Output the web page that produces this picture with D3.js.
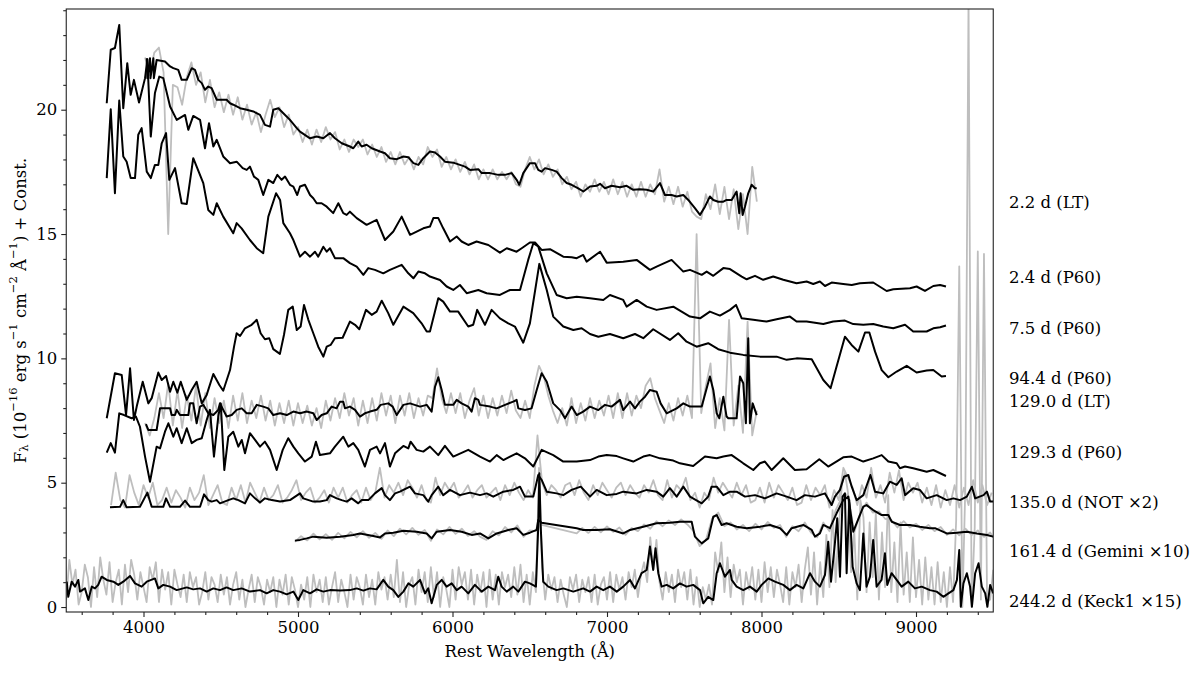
<!DOCTYPE html>
<html>
<head>
<meta charset="utf-8">
<script src="https://cdn.jsdelivr.net/npm/d3@7"></script>
<style>
body { margin: 0; background: #fff; }
text { font-family: "DejaVu Serif", serif; fill: #000; }
</style>
</head>
<body>
<div id="container"></div>
<script>
// ---- data: [wavelength (A), flux + offset] ----
var ltDay2Black = [[4021,22.07],[4025,21.27],[4042,22.07],[4045,21.27],[4064,22.07],[4067,21.27],[4085,22.0],[4139,21.94],[4172,21.74],[4193,21.67],[4225,21.6],[4247,21.2],[4280,21.2],[4312,21.67],[4333,21.6],[4355,21.2],[4377,21.07],[4398,20.8],[4419,20.93],[4441,20.87],[4474,20.4],[4495,20.4],[4538,20.4],[4560,20.26],[4581,20.2],[4625,20.06],[4668,20.0],[4711,19.93],[4754,19.79],[4786,19.39],[4819,19.32],[4840,20.0],[4873,20.06],[4905,19.86],[4948,19.59],[4992,19.26],[5013,19.12],[5078,18.85],[5121,18.92],[5164,18.85],[5207,19.06],[5239,18.85],[5283,18.65],[5336,18.52],[5358,18.45],[5390,18.72],[5412,18.52],[5444,18.59],[5477,18.45],[5531,18.32],[5563,18.25],[5595,18.05],[5639,18.01],[5682,18.12],[5714,18.09],[5747,17.85],[5779,17.78],[5811,18.05],[5854,18.32],[5887,18.28],[5919,18.12],[5951,17.91],[6005,17.87],[6048,17.78],[6081,17.71],[6113,17.58],[6167,17.61],[6189,17.45],[6243,17.45],[6296,17.38],[6340,17.38],[6383,17.45],[6415,17.18],[6432,16.98],[6458,17.45],[6501,17.85],[6534,17.85],[6555,17.58],[6577,17.51],[6599,17.65],[6642,17.58],[6674,17.51],[6707,17.25],[6739,17.05],[6771,16.98],[6814,16.84],[6847,16.71],[6890,16.91],[6933,16.94],[6955,17.02],[6987,16.84],[7030,16.94],[7084,16.88],[7127,16.94],[7170,16.78],[7213,16.8],[7257,16.78],[7299,16.71],[7343,17.05],[7375,16.57],[7418,16.57],[7451,16.51],[7494,16.57],[7526,16.37],[7569,16.04],[7602,15.77],[7634,16.1],[7666,16.51],[7688,16.37],[7720,16.3],[7753,16.3],[7774,16.37],[7807,16.37],[7839,16.71],[7856,15.84],[7865,16.64],[7878,15.77],[7893,16.1],[7914,16.64],[7936,16.98],[7958,16.84],[7969,16.84]];

var p60Day2 = [[3762,20.26],[3788,22.41],[3815,22.48],[3843,23.41],[3869,20.06],[3895,21.87],[3917,20.6],[3938,21.2],[3971,20.29],[4010,21.27],[4025,22.03],[4047,18.92],[4074,20.67],[4102,21.33],[4128,21.27],[4172,20.13],[4215,19.59],[4269,19.79],[4290,19.19],[4322,19.75],[4366,19.59],[4398,18.45],[4424,19.46],[4452,18.52],[4474,18.79],[4516,18.12],[4560,17.85],[4603,17.91],[4642,17.65],[4668,17.58],[4689,17.71],[4715,17.31],[4743,17.18],[4775,16.57],[4808,17.18],[4840,17.05],[4866,17.38],[4894,17.18],[4916,17.31],[4948,16.98],[4970,16.91],[4995,16.57],[5013,16.91],[5045,16.98],[5078,16.57],[5099,16.44],[5121,16.24],[5153,16.24],[5186,16.1],[5228,15.84],[5261,16.24],[5293,15.84],[5315,15.77],[5336,15.9],[5380,15.64],[5444,15.37],[5509,15.57],[5563,14.76],[5617,15.1],[5671,15.7],[5725,14.97],[5811,15.23],[5854,15.3],[5876,15.64],[5908,15.64],[5940,15.23],[5984,14.7],[6027,14.9],[6059,14.7],[6102,14.56],[6156,14.7],[6232,14.56],[6307,14.25],[6351,14.43],[6415,14.29],[6448,14.43],[6501,14.66],[6534,14.66],[6577,14.36],[6631,14.39],[6717,14.09],[6771,14.07],[6804,14.03],[6846,14.16],[6868,13.89],[6955,14.29],[6998,13.85],[7105,13.89],[7192,13.96],[7278,13.56],[7321,13.69],[7418,13.96],[7494,13.49],[7537,13.56],[7613,13.36],[7645,13.49],[7688,13.32],[7753,13.63],[7796,13.59],[7872,13.29],[7904,13.18],[7958,13.32],[8011,13.16],[8076,13.29],[8141,13.16],[8227,13.02],[8292,13.09],[8335,12.99],[8378,13.09],[8411,12.91],[8454,13.05],[8529,12.99],[8584,12.95],[8637,13.02],[8723,13.05],[8810,12.71],[8853,12.78],[8961,12.82],[9004,12.89],[9058,12.71],[9112,12.91],[9156,12.95],[9194,12.89]];

var p60Day7 = [[3762,17.25],[3788,20.02],[3815,16.64],[3843,20.37],[3869,18.12],[3891,17.91],[3917,17.25],[3945,17.25],[3966,18.99],[3988,19.26],[4021,17.51],[4047,17.25],[4074,17.78],[4096,17.78],[4118,18.65],[4146,19.06],[4167,17.18],[4204,17.65],[4247,16.24],[4280,16.21],[4322,18.05],[4387,17.05],[4419,15.97],[4452,15.77],[4474,16.24],[4516,15.7],[4581,15.03],[4603,15.44],[4635,15.23],[4689,14.76],[4733,14.43],[4775,14.23],[4808,15.7],[4858,16.64],[4884,16.37],[4905,15.44],[4948,15.03],[4970,14.76],[5013,14.09],[5045,14.29],[5078,14.09],[5110,14.29],[5131,14.09],[5164,14.49],[5186,14.29],[5207,14.43],[5239,14.03],[5293,14.03],[5336,13.83],[5380,13.69],[5423,13.36],[5455,13.63],[5498,13.56],[5552,13.42],[5595,13.56],[5671,13.76],[5714,13.42],[5747,13.22],[5779,13.49],[5822,13.42],[5854,13.29],[5919,13.15],[5962,12.89],[6005,12.75],[6048,12.95],[6092,12.62],[6167,12.75],[6221,12.62],[6307,12.55],[6372,12.75],[6437,12.75],[6490,13.96],[6523,14.63],[6555,14.5],[6610,13.42],[6674,12.55],[6739,12.42],[6804,12.48],[6890,12.42],[6976,12.35],[7019,12.55],[7105,12.35],[7127,12.08],[7192,12.35],[7257,12.08],[7321,11.95],[7429,12.08],[7537,11.68],[7602,11.61],[7666,11.88],[7731,11.72],[7796,11.95],[7835,12.15],[7872,11.61],[7947,11.55],[8033,11.48],[8098,11.57],[8184,11.68],[8227,11.48],[8292,11.48],[8400,11.38],[8464,11.48],[8540,11.52],[8594,11.38],[8659,11.35],[8723,11.38],[8788,11.28],[8853,11.21],[8929,11.35],[8982,11.08],[9069,11.08],[9112,11.21],[9156,11.25],[9194,11.32]];

var p60Day94 = [[3762,7.59],[3815,9.4],[3859,9.33],[3887,7.72],[3913,9.6],[3938,7.52],[3956,8.06],[3995,9.06],[4031,8.19],[4053,8.4],[4096,9.43],[4118,9.13],[4146,9.29],[4172,8.66],[4193,9.06],[4219,8.62],[4241,9.06],[4280,8.33],[4312,8.73],[4344,9.06],[4377,8.19],[4409,8.53],[4452,9.37],[4491,8.93],[4516,8.7],[4560,9.53],[4586,10.47],[4603,11.01],[4625,10.9],[4657,11.21],[4700,11.35],[4733,11.55],[4758,11.01],[4786,10.77],[4814,10.81],[4840,10.37],[4883,10.18],[4909,10.94],[4937,11.95],[4966,12.08],[4992,11.14],[5017,11.28],[5039,12.15],[5067,11.55],[5099,11.01],[5131,10.47],[5164,10.07],[5186,10.47],[5211,10.54],[5239,10.81],[5289,10.83],[5336,11.48],[5369,11.35],[5397,11.17],[5440,11.95],[5477,11.75],[5509,11.88],[5542,12.32],[5584,11.82],[5617,11.35],[5682,12.08],[5746,11.82],[5800,11.41],[5833,11.08],[5854,11.08],[5908,12.42],[5940,12.28],[5984,11.88],[6037,11.88],[6102,11.28],[6134,11.35],[6160,11.95],[6210,11.35],[6253,11.95],[6307,11.61],[6361,11.41],[6404,11.28],[6458,10.63],[6501,11.41],[6562,13.8],[6610,12.75],[6652,11.68],[6717,11.28],[6782,11.14],[6836,11.21],[6890,10.98],[6944,10.87],[7019,10.98],[7105,10.81],[7181,10.98],[7235,10.81],[7299,11.17],[7407,10.74],[7461,11.01],[7515,10.67],[7580,10.47],[7655,10.61],[7720,10.37],[7796,10.23],[7882,10.14],[7990,10.07],[8098,10.07],[8163,9.94],[8227,10.0],[8325,9.96],[8400,9.13],[8447,8.8],[8486,9.67],[8540,10.87],[8583,10.54],[8627,10.27],[8670,11.04],[8698,11.04],[8735,10.27],[8778,9.53],[8821,9.24],[8875,9.47],[8940,9.7],[9004,9.43],[9069,9.51],[9112,9.53],[9166,9.27],[9194,9.29]];

var ltDay129Black = [[4016,7.36],[4031,7.12],[4085,7.12],[4107,7.99],[4172,7.99],[4182,7.72],[4204,7.72],[4215,7.93],[4236,7.72],[4290,7.72],[4301,8.19],[4322,8.19],[4344,7.39],[4366,8.06],[4387,8.13],[4419,7.79],[4452,7.72],[4484,7.93],[4495,8.19],[4538,7.66],[4571,7.72],[4603,7.93],[4636,7.99],[4668,7.79],[4700,7.79],[4733,8.13],[4775,8.06],[4808,7.99],[4840,7.72],[4884,7.79],[4927,7.72],[4970,7.86],[5013,7.79],[5056,7.86],[5099,7.79],[5121,7.52],[5153,7.72],[5186,7.79],[5218,8.06],[5250,7.99],[5272,8.26],[5293,8.26],[5304,7.99],[5336,8.06],[5369,7.93],[5401,7.66],[5433,7.79],[5466,7.86],[5509,7.93],[5535,8.13],[5584,8.19],[5613,8.06],[5639,7.72],[5682,8.13],[5725,8.19],[5790,8.06],[5833,8.13],[5865,7.86],[5887,8.86],[5908,9.24],[5930,8.73],[5951,8.13],[6005,8.13],[6027,8.33],[6059,8.19],[6102,8.06],[6124,7.86],[6145,8.4],[6167,8.33],[6178,8.13],[6243,8.06],[6286,7.99],[6340,8.13],[6393,8.26],[6415,8.33],[6426,7.99],[6469,7.92],[6512,7.99],[6545,8.73],[6577,9.4],[6610,9.06],[6652,8.19],[6696,7.92],[6728,7.59],[6771,8.06],[6804,7.72],[6846,7.86],[6890,8.06],[6944,7.92],[6987,8.13],[7030,8.06],[7084,8.33],[7105,7.92],[7149,8.26],[7181,7.99],[7213,8.26],[7246,8.46],[7278,8.73],[7321,8.66],[7347,8.19],[7386,7.79],[7451,7.99],[7494,8.19],[7537,8.06],[7613,8.06],[7666,9.27],[7688,8.73],[7710,7.79],[7727,7.59],[7753,8.46],[7774,7.66],[7785,7.59],[7839,7.59],[7861,9.27],[7882,9.0],[7899,7.39],[7914,10.81],[7925,7.39],[7943,8.19],[7969,7.72]];

var p60Day129 = [[3762,6.21],[3788,6.59],[3815,6.21],[3843,7.79],[3874,7.72],[3923,7.59],[3951,7.66],[3977,7.25],[4010,6.05],[4042,5.04],[4085,6.45],[4107,6.38],[4139,7.05],[4161,7.39],[4193,6.85],[4215,7.19],[4247,6.59],[4280,7.19],[4312,6.59],[4344,6.72],[4377,6.79],[4409,7.52],[4430,7.93],[4456,6.05],[4484,7.66],[4500,8.19],[4523,5.51],[4549,6.85],[4581,7.05],[4614,6.45],[4636,6.72],[4657,6.18],[4689,6.99],[4722,6.72],[4754,6.45],[4786,6.65],[4819,6.32],[4862,5.51],[4901,6.32],[4937,6.79],[4970,6.45],[5002,6.18],[5045,5.85],[5089,6.05],[5116,6.65],[5142,6.11],[5207,6.18],[5239,6.45],[5293,6.85],[5326,6.45],[5358,6.59],[5390,6.32],[5433,5.65],[5466,6.32],[5509,6.45],[5531,6.18],[5563,6.59],[5595,5.65],[5628,6.18],[5682,6.48],[5714,6.38],[5729,6.65],[5768,6.32],[5811,6.25],[5854,6.45],[5908,6.11],[5951,6.48],[6005,6.05],[6102,6.32],[6178,6.05],[6243,5.85],[6286,6.11],[6329,5.91],[6415,6.18],[6469,5.98],[6523,5.65],[6577,6.32],[6652,6.11],[6717,5.85],[6804,5.85],[6890,5.91],[6944,6.05],[6998,6.11],[7063,6.07],[7105,5.98],[7170,5.85],[7235,6.05],[7278,6.11],[7343,5.98],[7429,5.89],[7472,5.78],[7558,5.67],[7634,6.05],[7710,5.98],[7753,6.05],[7807,6.11],[7882,5.78],[7947,5.51],[7990,5.78],[8022,5.85],[8066,5.51],[8141,5.98],[8216,5.51],[8292,5.54],[8374,5.94],[8432,5.65],[8529,6.02],[8584,6.05],[8659,5.85],[8723,5.98],[8778,6.11],[8821,5.85],[8875,5.78],[8896,5.58],[8929,5.65],[8982,5.58],[9069,5.44],[9112,5.51],[9194,5.27]];

var notDay135Black = [[3783,4.01],[3848,4.03],[3869,4.3],[3891,4.01],[3977,4.03],[4025,4.6],[4053,4.03],[4128,4.03],[4146,4.37],[4172,4.03],[4236,4.03],[4269,4.28],[4301,4.03],[4366,4.03],[4392,4.53],[4419,4.3],[4441,4.24],[4474,4.3],[4495,4.17],[4549,4.3],[4581,4.37],[4614,4.3],[4657,4.17],[4689,4.57],[4722,4.37],[4754,4.2],[4786,4.37],[4830,4.3],[4884,4.24],[4948,4.3],[5013,4.57],[5034,4.37],[5099,4.24],[5142,4.24],[5186,4.3],[5207,4.5],[5250,4.37],[5283,4.3],[5315,4.24],[5347,4.37],[5390,4.17],[5412,4.3],[5455,4.3],[5498,4.57],[5542,4.78],[5563,4.5],[5595,4.3],[5628,4.57],[5660,4.64],[5682,4.71],[5725,4.84],[5757,4.57],[5811,4.5],[5843,4.24],[5865,4.5],[5908,4.84],[5940,4.5],[5984,4.71],[6048,4.5],[6113,4.6],[6178,4.5],[6221,4.57],[6264,4.44],[6329,4.64],[6393,4.71],[6437,4.84],[6469,4.44],[6523,4.44],[6555,5.31],[6577,5.11],[6610,4.64],[6674,4.57],[6717,4.5],[6771,4.71],[6830,4.84],[6890,4.44],[6933,4.71],[6998,4.5],[7063,4.55],[7105,4.64],[7192,4.57],[7257,4.71],[7321,4.64],[7364,4.44],[7407,4.78],[7451,4.44],[7494,4.84],[7537,4.44],[7613,4.17],[7655,4.44],[7677,4.84],[7710,4.84],[7753,4.5],[7796,4.64],[7839,4.64],[7893,4.44],[7958,4.5],[8022,4.37],[8098,4.57],[8163,4.44],[8227,4.3],[8281,4.5],[8346,4.44],[8411,4.57],[8454,4.1],[8475,4.44],[8508,4.71],[8534,5.24],[8562,5.31],[8584,4.84],[8616,4.3],[8659,4.5],[8705,5.31],[8735,4.64],[8788,4.57],[8831,5.04],[8875,4.91],[8907,5.18],[8929,4.5],[8982,4.78],[9025,4.71],[9069,4.37],[9134,4.5],[9199,4.3],[9242,4.37],[9285,4.3],[9329,4.44],[9362,4.84],[9383,4.37],[9437,4.5],[9459,4.64],[9480,4.24],[9502,4.24]];

var geminiDay161Black = [[4980,2.67],[5013,2.7],[5056,2.76],[5099,2.83],[5186,2.79],[5272,2.83],[5358,2.9],[5401,2.96],[5487,2.86],[5531,2.8],[5563,2.96],[5617,2.99],[5682,3.07],[5768,3.03],[5833,2.96],[5865,2.76],[5898,3.03],[5984,3.1],[6059,3.03],[6124,2.9],[6178,2.96],[6232,2.76],[6286,2.96],[6361,3.1],[6415,3.17],[6458,2.9],[6501,2.99],[6545,3.1],[6555,3.5],[6577,3.39],[6804,3.17],[6846,3.1],[6933,3.1],[7019,3.13],[7105,2.96],[7149,3.1],[7235,3.23],[7321,3.37],[7407,3.39],[7472,3.43],[7548,3.43],[7569,2.83],[7613,2.56],[7655,2.76],[7688,3.63],[7710,3.7],[7742,3.3],[7774,3.37],[7839,3.23],[7904,3.17],[7990,3.23],[8055,3.3],[8120,3.17],[8163,2.9],[8195,3.17],[8271,3.3],[8325,3.1],[8346,2.83],[8378,2.96],[8400,3.3],[8443,3.17],[8486,3.77],[8529,4.3],[8562,4.44],[8594,3.03],[8659,4.04],[8680,4.1],[8723,3.9],[8778,3.7],[8821,3.7],[8843,3.43],[8896,3.3],[8961,3.3],[9025,3.23],[9090,3.17],[9123,3.17],[9199,2.96],[9264,2.99],[9329,3.03],[9394,2.96],[9459,2.9],[9500,2.83]];

var keckDay244Black = [[3503,1.02],[3513,0.41],[3535,1.02],[3557,0.82],[3578,1.09],[3589,0.62],[3621,0.75],[3643,0.28],[3665,0.82],[3686,0.75],[3707,0.89],[3729,1.22],[3762,1.09],[3805,1.02],[3837,0.89],[3869,1.02],[3913,1.25],[3945,0.95],[3988,0.82],[4021,1.02],[4074,1.15],[4096,0.75],[4128,0.89],[4172,0.82],[4215,0.68],[4280,0.79],[4322,0.71],[4366,0.75],[4409,0.62],[4452,0.75],[4495,0.68],[4538,0.79],[4581,0.68],[4636,0.75],[4689,0.62],[4754,0.68],[4797,0.55],[4840,0.68],[4883,0.62],[4927,0.51],[4970,0.62],[5002,0.28],[5034,0.68],[5078,0.55],[5121,0.71],[5164,0.62],[5207,0.68],[5272,0.66],[5336,0.68],[5380,0.75],[5423,0.66],[5466,0.75],[5509,0.71],[5552,1.09],[5584,0.82],[5617,0.68],[5649,0.41],[5682,0.62],[5714,0.95],[5746,0.82],[5790,1.09],[5822,0.55],[5843,0.75],[5865,0.15],[5898,0.89],[5930,1.09],[5962,0.82],[5995,0.95],[6027,0.68],[6059,0.82],[6102,0.55],[6145,0.89],[6189,0.62],[6232,0.82],[6275,0.68],[6296,1.22],[6318,0.82],[6351,0.62],[6393,0.82],[6426,0.62],[6469,1.02],[6501,0.95],[6540,0.82],[6555,3.23],[6562,5.38],[6571,3.23],[6587,1.02],[6620,0.82],[6674,0.68],[6717,0.75],[6782,0.62],[6846,0.75],[6890,0.62],[6933,0.82],[6976,0.68],[7019,0.82],[7063,0.62],[7105,0.82],[7149,1.09],[7181,0.75],[7224,1.36],[7257,1.49],[7278,2.43],[7299,1.49],[7314,2.36],[7332,1.36],[7354,0.82],[7386,0.89],[7429,0.75],[7472,0.95],[7515,0.82],[7558,0.89],[7602,0.68],[7623,0.15],[7655,0.41],[7688,0.28],[7710,1.36],[7731,1.76],[7763,1.22],[7796,1.49],[7807,1.09],[7839,0.82],[7882,0.68],[7925,0.82],[7969,0.62],[8001,0.89],[8044,1.15],[8087,1.02],[8141,0.89],[8184,0.68],[8227,0.89],[8271,0.75],[8314,1.36],[8346,1.02],[8378,0.82],[8411,1.29],[8432,2.63],[8450,1.02],[8475,2.56],[8490,3.57],[8508,1.22],[8525,4.44],[8540,4.57],[8551,1.36],[8568,4.3],[8590,1.62],[8616,0.95],[8637,0.68],[8659,2.96],[8680,0.82],[8702,1.22],[8723,2.7],[8745,0.82],[8777,1.09],[8799,2.16],[8814,0.89],[8842,1.36],[8875,1.09],[8907,0.82],[8950,1.02],[8993,0.75],[9037,0.82],[9090,0.68],[9134,0.62],[9177,0.41],[9210,0.55],[9242,0.68],[9265,1.09],[9280,2.29],[9290,0.01],[9307,0.95],[9329,1.36],[9350,0.82],[9362,0.01],[9383,1.36],[9405,1.76],[9426,0.82],[9448,0.55],[9462,0.01],[9480,0.89],[9500,0.55]];

// unbinned spectra (grey), uniform wavelength grids
var ltDay2GreyStart = 4010, ltDay2GreyStep = 30;
var ltDay2Grey = [22.1,21.4,22.3,22.5,21.5,15.0,21.0,20.9,20.2,21.3,21.9,21.0,21.5,20.3,21.2,20.1,20.7,19.9,20.6,19.8,20.5,19.6,20.2,19.4,19.9,19.1,19.8,20.4,19.7,20.1,19.3,19.8,19.0,19.3,18.7,19.2,18.6,19.2,18.7,19.3,18.8,19.1,18.4,18.8,18.3,18.8,18.5,18.8,18.2,18.6,18.1,18.5,17.9,18.3,17.8,18.3,17.8,18.1,17.6,18.1,17.8,18.5,18.1,18.4,17.7,18.1,17.6,18.0,17.5,17.9,17.4,17.8,17.2,17.6,17.2,17.6,17.2,17.5,17.2,17.5,17.0,16.9,17.6,18.1,17.6,18.0,17.4,17.8,17.3,17.6,17.0,17.3,16.8,17.1,16.5,17.0,16.7,17.2,16.7,17.1,16.6,17.2,16.6,17.1,16.5,17.0,16.5,17.1,16.5,17.0,16.6,17.6,16.3,16.9,16.2,16.9,16.1,16.7,15.9,15.7,15.6,16.6,16.0,17.0,15.8,16.9,15.6,16.8,15.2,16.6,15.0,17.7,16.3];

var ltDay129GreyStart = 4010, ltDay129GreyStep = 30;
var ltDay129Grey = [7.4,6.9,7.6,8.6,7.6,9.0,7.3,8.7,7.2,8.5,7.5,8.9,7.3,8.6,7.2,8.4,7.4,8.3,7.2,8.5,7.5,8.6,7.4,8.3,7.6,8.5,7.5,8.3,7.3,8.2,7.4,8.3,7.3,8.2,7.4,8.1,7.3,8.0,7.2,8.3,7.5,8.4,7.6,8.6,7.7,8.4,7.3,8.3,7.4,8.4,7.5,8.6,7.7,8.5,7.4,8.5,7.7,8.6,7.6,8.4,7.7,8.5,8.4,9.6,8.4,7.8,8.6,7.8,8.6,7.6,8.3,8.8,7.7,8.5,7.6,8.4,7.7,8.5,7.8,8.7,7.9,7.6,8.3,7.6,8.9,9.7,9.3,8.5,7.9,7.4,8.0,7.3,8.4,7.4,8.2,7.5,8.4,7.6,8.3,7.7,8.5,7.6,8.6,7.6,8.6,7.7,8.5,8.0,8.9,9.2,8.4,7.9,7.4,8.2,7.5,8.4,7.7,8.5,7.6,15.0,7.8,8.9,9.8,7.2,8.4,7.1,11.55,7.3,8.9,7.0,11.48,6.9,7.9];

var notDay135GreyStart = 3790, notDay135GreyStep = 30;
var notDay135Grey = [4.1,5.4,4.3,4.0,5.3,4.6,4.1,4.9,4.4,5.0, 4.1,4.3,4.8,4.2,4.7,4.4,4.0,4.8,4.3,4.6, 5.3,4.1,4.5,4.9,4.2,4.1,4.8,4.3,4.9,4.2, 5.0,4.6,4.2,4.8,4.3,4.5,4.9,4.2,4.4,4.7, 5.1,4.3,4.6,4.8,4.2,4.4,4.7,4.2,4.8,4.4, 4.8,4.2,4.5,4.7,4.2,4.8,4.3,4.6,5.6,4.4, 4.9,4.6,5.0,4.5,5.1,4.8,4.4,4.9,4.3,4.2, 5.2,4.5,5.0,4.7,5.0,4.4,4.6,4.9,4.4,4.7, 4.9,4.4,4.6,4.8,4.3,4.9,4.5,5.0,4.6,4.3, 4.7,4.4,6.9,5.0,4.5,4.9,4.7,4.4,4.9,5.0, 4.5,5.1,4.6,4.3,4.9,4.5,5.0,4.7,4.4,4.8, 5.0,4.5,4.9,4.6,4.4,4.9,4.6,5.1,4.5,4.3, 5.1,4.4,4.9,4.7,5.2,4.3,4.6,4.0,4.6,4.3, 5.2,4.6,5.0,4.7,4.4,5.0,4.5,4.9,4.2,4.3, 4.8,4.2,5.0,4.4,4.9,4.6,4.3,4.8,4.1,4.2, 4.9,4.3,4.8,4.5,4.9,4.0,4.7,4.3,5.6,5.2, 4.8,4.1,4.9,4.4,5.6,4.4,4.9,4.2,5.4,4.6, 5.5,4.3,5.0,4.6,5.0,4.2,4.8,4.1,4.9,4.0, 4.7,4.1,4.9,4.0,4.8,4.1,5.1,4.2,4.9,4.1, 4.6];

var geminiDay161Grey = [[4980,2.62],[5020,2.85],[5060,2.68],[5100,2.95],[5140,2.72],[5180,2.93],[5220,2.7],[5260,2.98],[5300,2.76],[5340,3.02],[5380,2.8],[5420,3.05],[5460,2.78],[5500,2.98],[5540,2.74],[5580,3.08],[5620,2.85],[5660,3.15],[5700,2.92],[5740,3.18],[5780,2.9],[5820,3.1],[5860,2.66],[5900,3.12],[5940,2.92],[5980,3.22],[6020,2.94],[6060,3.15],[6100,2.86],[6140,3.05],[6180,2.82],[6220,2.7],[6260,3.05],[6300,2.88],[6340,3.22],[6380,3.0],[6420,3.28],[6460,2.82],[6500,3.08],[6540,3.05],[6560,3.6],[6577,3.3],[6804,2.96],[6840,3.18],[6880,2.98],[6920,3.22],[6960,3.0],[7000,3.24],[7040,3.02],[7080,3.2],[7120,2.9],[7160,3.18],[7200,3.05],[7240,3.32],[7280,3.15],[7320,3.45],[7360,3.25],[7400,3.48],[7440,3.3],[7480,3.52],[7520,3.32],[7560,3.05],[7600,2.45],[7640,2.7],[7680,3.55],[7720,3.8],[7760,3.25],[7800,3.4],[7840,3.12],[7880,3.3],[7920,3.05],[7960,3.35],[8000,3.12],[8040,3.42],[8080,3.18],[8120,3.3],[8160,2.82],[8200,3.25],[8240,3.05],[8280,3.4],[8320,3.0],[8360,2.8],[8400,3.4],[8440,3.05],[8480,3.9],[8520,4.4],[8560,4.55],[8600,3.0],[8640,3.8],[8680,4.2],[8720,3.8],[8760,3.85],[8800,3.55],[8840,3.5],[8880,3.2],[8920,3.45],[8960,3.2],[9000,3.35],[9040,3.1],[9080,3.3],[9120,3.05],[9160,3.22],[9200,2.9],[9240,3.12],[9280,2.88],[9320,3.15],[9360,2.9],[9400,3.08],[9440,2.82],[9480,3.0],[9500,2.8]];

var keckDay244GreyStart = 3500, keckDay244GreyStep = 20;
var keckDay244Grey = [0.3,1.9,0.9,1.5,0.1,0.6,1.7,1.2,0.0,1.6, 0.4,2.0,1.1,0.5,1.8,0.2,1.0,1.5,0.1,1.7, 0.6,1.9,1.3,0.3,1.4,0.8,0.2,1.6,1.1,1.8, 0.2,1.5,0.7,1.4,0.1,1.5,0.9,0.4,1.3,0.2, 1.4,0.8,1.2,0.1,0.6,1.4,0.3,1.2,0.9,0.2, 1.3,0.5,1.2,0.1,0.9,1.4,0.3,1.1,0.0,0.7, 1.3,0.2,1.2,0.8,0.1,1.1,0.6,1.2,0.0,1.1, 0.5,1.3,0.1,1.2,0.7,0.0,0.9,0.3,1.2,0.0, 1.3,0.6,1.1,0.2,1.2,0.1,0.8,1.4,0.2,1.1, 0.6,0.0,1.3,0.3,1.2,0.8,0.1,1.3,0.4,1.1, 0.1,1.4,0.7,1.2,0.3,1.3,0.4,1.9,0.2,1.4, 0.0,0.9,1.2,0.1,1.5,0.6,1.4,0.2,1.6,0.4, 1.4,0.0,1.2,0.7,0.0,1.5,0.3,1.6,0.9,1.4, 0.3,1.5,0.1,1.3,0.6,1.4,0.0,1.5,0.3,1.3, 0.1,1.4,0.8,1.3,0.4,1.6,0.5,1.7,0.2,1.3, 0.1,1.4,0.6,5.6,1.6,0.3,1.3,0.7,1.2,0.2, 1.1,0.5,0.0,1.2,0.7,1.3,0.2,1.1,0.6,1.2, 0.2,1.3,0.1,0.9,1.2,0.3,1.4,0.2,1.3,0.7, 1.2,0.3,1.4,0.8,1.5,0.4,1.3,1.8,1.0,2.8, 1.5,2.7,1.0,0.3,1.4,0.6,1.3,0.2,1.5,0.8, 1.4,0.3,1.5,0.1,1.2,0.0,0.8,0.3,0.9,0.1, 2.2,1.4,2.6,0.6,2.0,0.4,1.7,1.0,1.5,0.1, 1.4,0.7,1.6,0.3,1.5,0.2,1.8,0.6,1.6,0.4, 1.5,0.9,0.2,1.6,0.1,1.4,0.8,1.7,0.2,1.5, 2.4,0.5,2.2,0.1,1.8,0.4,2.9,0.8,3.9,1.0, 3.2,4.9,5.4,4.6,1.4,3.1,0.3,4.3,3.6,0.6, 3.4,1.2,3.8,0.3,3.0,0.8,4.5,0.6,2.6,0.2, 3.4,0.5,2.2,0.2,2.8,0.4,1.9,0.1,2.0,0.3, 1.6,0.1,1.8,0.2,1.4,0.0,1.6,0.2,3.5,13.7, 0.0,5.0,24.5,0.0,3.2,14.3,0.3,14.2,0.2,0.3,1.5];

// epoch labels and their heights (flux units)
var labelText = ["2.2 d (LT)", "2.4 d (P60)", "7.5 d (P60)", "94.4 d (P60)", "129.0 d (LT)", "129.3 d (P60)", "135.0 d (NOT \u00d72)", "161.4 d (Gemini \u00d710)", "244.2 d (Keck1 \u00d715)"];
var labelY = [16.25, 13.24, 11.22, 9.21, 8.25, 6.2, 4.22, 2.25, 0.24];

var xMajor = [4000, 5000, 6000, 7000, 8000, 9000];
var yMajor = [0, 5, 10, 15, 20];

// ---- layout ----
var W = 1200, H = 674;
var plotL = 66.25, plotR = 993.25, plotT = 9, plotB = 612;
var fontPx = 16.5;

var x = d3.scaleLinear().domain([3500, 9500]).range([plotL, plotR]);
var y = d3.scaleLinear().domain([-0.2, 24.05]).range([plotB, plotT]);

var xMinor = d3.range(3600, 9500, 200).filter(d => d % 1000 !== 0);
var yMinor = d3.range(0, 25, 1).filter(d => d % 5 !== 0);

var svg = d3.select("#container").append("svg")
	.attr("width", W)
	.attr("height", H);

svg.append("defs").append("clipPath")
	.attr("id", "plotclip")
	.append("rect")
	.attr("x", plotL).attr("y", plotT)
	.attr("width", plotR - plotL).attr("height", plotB - plotT);

function onGrid( start, step, vals )
{
	return vals.map( (v,i) => [start + i*step, v] );
}

var line = d3.line()
	.x(d => x(d[0]))
	.y(d => y(d[1]));

var lines = svg.append("g").attr("clip-path", "url(#plotclip)");

var greys = [
	onGrid(ltDay2GreyStart, ltDay2GreyStep, ltDay2Grey),
	onGrid(ltDay129GreyStart, ltDay129GreyStep, ltDay129Grey),
	onGrid(notDay135GreyStart, notDay135GreyStep, notDay135Grey),
	geminiDay161Grey,
	onGrid(keckDay244GreyStart, keckDay244GreyStep, keckDay244Grey)
];
var blacks = [ltDay2Black, p60Day2, p60Day7, p60Day94, ltDay129Black, p60Day129, notDay135Black, geminiDay161Black, keckDay244Black];

lines.selectAll(".grey")
	.data(greys)
	.enter().append("path")
	.attr("class", "grey")
	.attr("d", line)
	.attr("fill", "none")
	.attr("stroke", "#bebebe")
	.attr("stroke-width", 1.8)
	.attr("stroke-linejoin", "round");

lines.selectAll(".black")
	.data(blacks)
	.enter().append("path")
	.attr("class", "black")
	.attr("d", line)
	.attr("fill", "none")
	.attr("stroke", "#000")
	.attr("stroke-width", 2)
	.attr("stroke-linejoin", "round");

// axes
function styleAxis( g )
{
	g.select(".domain").remove();
	g.selectAll(".tick line").attr("stroke", "#222").attr("stroke-width", 1.1);
	g.selectAll(".tick text").style("font-family", "DejaVu Serif").style("font-size", fontPx + "px").attr("fill", "#000");
}

svg.append("g")
	.attr("transform", "translate(0," + plotB + ")")
	.call(d3.axisBottom(x).tickValues(xMajor).tickSize(5).tickPadding(4).tickFormat(d3.format("d")))
	.call(styleAxis);
svg.append("g")
	.attr("transform", "translate(0," + plotB + ")")
	.call(d3.axisBottom(x).tickValues(xMinor).tickSize(3).tickFormat(""))
	.call(styleAxis);
svg.append("g")
	.attr("transform", "translate(" + plotL + ",0)")
	.call(d3.axisLeft(y).tickValues(yMajor).tickSize(5).tickPadding(4).tickFormat(d3.format("d")))
	.call(styleAxis);
svg.append("g")
	.attr("transform", "translate(" + plotL + ",0)")
	.call(d3.axisLeft(y).tickValues(yMinor).tickSize(3).tickFormat(""))
	.call(styleAxis);

svg.append("rect")
	.attr("x", plotL).attr("y", plotT)
	.attr("width", plotR - plotL).attr("height", plotB - plotT)
	.attr("fill", "none")
	.attr("stroke", "#222")
	.attr("stroke-width", 1.1);

// epoch labels
svg.selectAll(".epoch")
	.data(labelText)
	.enter().append("text")
	.attr("class", "epoch")
	.attr("x", 1009)
	.attr("y", (d,i) => y(labelY[i]))
	.attr("dominant-baseline", "central")
	.style("font-size", fontPx + "px")
	.text(d => d);

// axis titles
svg.append("text")
	.attr("x", (plotL + plotR) / 2)
	.attr("y", 651)
	.attr("text-anchor", "middle")
	.attr("dominant-baseline", "central")
	.style("font-size", fontPx + "px")
	.text("Rest Wavelength (\u00c5)");

var ylab = [
	{t: "F", o: 0, s: 16.5}, {t: "\u03bb", o: 4, s: 11.5}, {t: " (10", o: 0, s: 16.5}, {t: "\u221216", o: -7, s: 11.5},
	{t: " erg s", o: 0, s: 16.5}, {t: "\u22121", o: -7, s: 11.5}, {t: " cm", o: 0, s: 16.5}, {t: "\u22122", o: -7, s: 11.5},
	{t: " \u00c5", o: 0, s: 16.5}, {t: "\u22121", o: -7, s: 11.5}, {t: ") + Const.", o: 0, s: 16.5}
];
var yt = svg.append("text")
	.attr("transform", "translate(20," + ((plotT + plotB) / 2) + ") rotate(-90)")
	.attr("text-anchor", "middle")
	.attr("dominant-baseline", "central")
	.style("white-space", "pre");
var prev = 0;
ylab.forEach(p => {
	yt.append("tspan")
		.attr("dy", p.o - prev)
		.style("font-size", p.s + "px")
		.text(p.t);
	prev = p.o;
});
</script>
</body>
</html>
